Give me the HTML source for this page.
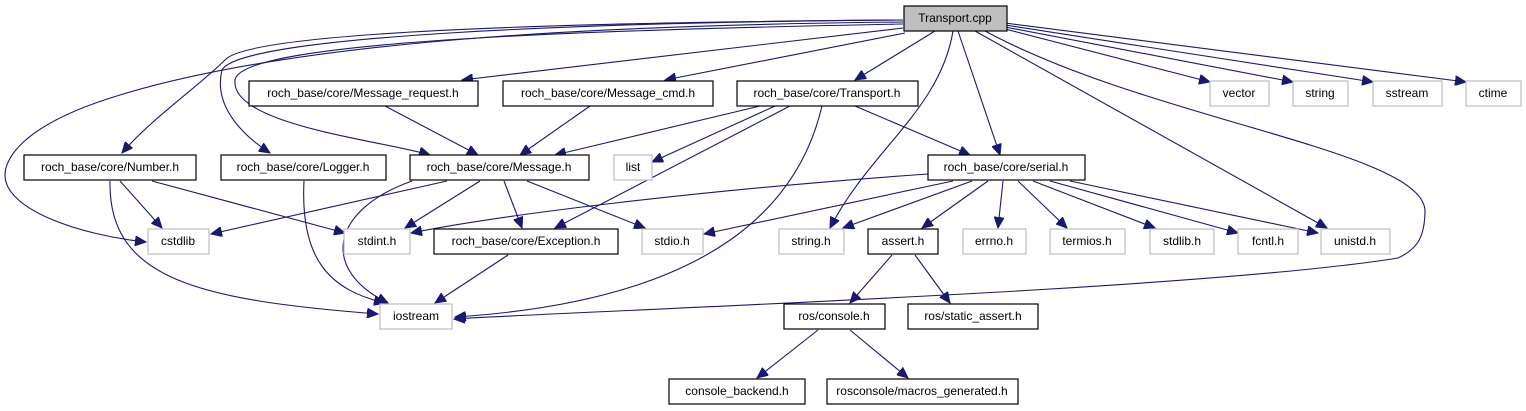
<!DOCTYPE html>
<html><head><meta charset="utf-8"><style>
html,body{margin:0;padding:0;background:#fff;}
svg{display:block;}
text{font-family:"Liberation Sans",sans-serif;font-size:12px;text-anchor:middle;fill:#000;}
.b{fill:#fff;stroke:#000;stroke-width:1.2;}
.g{fill:#fff;stroke:#bfbfbf;stroke-width:1.2;}
path{fill:none;stroke:#191970;stroke-width:1.1;}
</style></head><body>
<svg width="1526" height="411" viewBox="0 0 1526 411" xmlns="http://www.w3.org/2000/svg">
<defs><marker id="a" markerUnits="userSpaceOnUse" markerWidth="12" markerHeight="10" refX="11" refY="5" orient="auto"><path d="M0,0 L11,5 L0,10 Z" style="fill:#191970;stroke:#191970;stroke-width:1"/></marker></defs>
<g marker-end="url(#a)">
<path d="M903,22 C600,25 300,40 120,95 C20,125 5,160 5,175 C5,210 80,235 146,242"/>
<path d="M903,20 C600,22 250,30 225,60 C200,85 150,120 122,153"/>
<path d="M903,20 C600,22 240,35 222,70 C212,110 250,140 270,153"/>
<path d="M903,24 C600,30 240,40 235,80 C230,125 380,140 430,155"/>
<path d="M903,28 L462,80"/>
<path d="M905,33 L665,80"/>
<path d="M935,31 L855,80"/>
<path d="M953,31 C940,110 870,150 830,228"/>
<path d="M958,31 L1000,155"/>
<path d="M975,31 L1327,228"/>
<path d="M985,31 C1150,120 1420,150 1425,210 C1425,240 1415,250 1398,258 C1200,290 600,310 454,319"/>
<path d="M1005,29 L1210,82"/>
<path d="M1005,27 L1293,82"/>
<path d="M1005,25 L1373,82"/>
<path d="M1005,23 L1466,82"/>
<path d="M385,106 L478,155"/>
<path d="M590,106 L520,155"/>
<path d="M760,106 L555,155"/>
<path d="M775,106 L652,162"/>
<path d="M790,106 L555,228"/>
<path d="M822,106 C800,200 720,300 455,317"/>
<path d="M855,106 L970,155"/>
<path d="M120,181 L162,228"/>
<path d="M152,181 L345,233"/>
<path d="M110,181 C108,280 200,300 378,314"/>
<path d="M304,181 C300,260 330,290 385,303"/>
<path d="M412,181 C330,210 320,270 388,303"/>
<path d="M447,181 L211,234"/>
<path d="M480,181 L405,228"/>
<path d="M504,181 L522,228"/>
<path d="M527,181 L645,228"/>
<path d="M508,255 L435,303"/>
<path d="M928,174 C700,190 500,215 411,233"/>
<path d="M953,181 L704,234"/>
<path d="M972,181 L843,228"/>
<path d="M988,181 L922,228"/>
<path d="M1003,181 L998,228"/>
<path d="M1018,181 L1067,228"/>
<path d="M1033,181 L1155,228"/>
<path d="M1050,181 L1238,233"/>
<path d="M1070,181 L1318,233"/>
<path d="M892,255 L850,303"/>
<path d="M915,255 L950,303"/>
<path d="M818,330 L757,378"/>
<path d="M850,330 L908,378"/>
</g>
<rect x="904" y="6" width="103" height="25" style="fill:#bfbfbf;stroke:#000;stroke-width:1.2"/><text x="955" y="22">Transport.cpp</text>
<rect class="b" x="249" y="81" width="229" height="25"/><text x="363" y="97">roch_base/core/Message_request.h</text>
<rect class="b" x="503" y="81" width="210" height="25"/><text x="608" y="97">roch_base/core/Message_cmd.h</text>
<rect class="b" x="737" y="81" width="181" height="25"/><text x="827" y="97">roch_base/core/Transport.h</text>
<rect class="g" x="1210" y="81" width="59" height="25"/><text x="1239" y="97">vector</text>
<rect class="g" x="1293" y="81" width="55" height="25"/><text x="1320" y="97">string</text>
<rect class="g" x="1373" y="81" width="69" height="25"/><text x="1407" y="97">sstream</text>
<rect class="g" x="1466" y="81" width="55" height="25"/><text x="1493" y="97">ctime</text>
<rect class="b" x="24" y="155" width="172" height="25"/><text x="110" y="171">roch_base/core/Number.h</text>
<rect class="b" x="221" y="155" width="165" height="25"/><text x="303" y="171">roch_base/core/Logger.h</text>
<rect class="b" x="410" y="155" width="179" height="25"/><text x="499" y="171">roch_base/core/Message.h</text>
<rect class="g" x="614" y="155" width="38" height="25"/><text x="633" y="171">list</text>
<rect class="b" x="928" y="155" width="157" height="25"/><text x="1006" y="171">roch_base/core/serial.h</text>
<rect class="g" x="148" y="229" width="61" height="25"/><text x="178" y="245">cstdlib</text>
<rect class="g" x="344" y="229" width="66" height="25"/><text x="377" y="245">stdint.h</text>
<rect class="b" x="434" y="229" width="184" height="25"/><text x="526" y="245">roch_base/core/Exception.h</text>
<rect class="g" x="642" y="229" width="61" height="25"/><text x="672" y="245">stdio.h</text>
<rect class="g" x="779" y="229" width="65" height="25"/><text x="811" y="245">string.h</text>
<rect class="b" x="868" y="229" width="70" height="25"/><text x="903" y="245">assert.h</text>
<rect class="g" x="963" y="229" width="63" height="25"/><text x="994" y="245">errno.h</text>
<rect class="g" x="1050" y="229" width="75" height="25"/><text x="1087" y="245">termios.h</text>
<rect class="g" x="1150" y="229" width="64" height="25"/><text x="1182" y="245">stdlib.h</text>
<rect class="g" x="1238" y="229" width="60" height="25"/><text x="1268" y="245">fcntl.h</text>
<rect class="g" x="1321" y="229" width="69" height="25"/><text x="1355" y="245">unistd.h</text>
<rect class="g" x="380" y="304" width="72" height="25"/><text x="416" y="320">iostream</text>
<rect class="b" x="784" y="304" width="101" height="25"/><text x="834" y="320">ros/console.h</text>
<rect class="b" x="908" y="304" width="130" height="25"/><text x="973" y="320">ros/static_assert.h</text>
<rect class="b" x="669" y="379" width="136" height="25"/><text x="737" y="395">console_backend.h</text>
<rect class="b" x="827" y="379" width="191" height="25"/><text x="922" y="395">rosconsole/macros_generated.h</text>
</svg>
</body></html>
